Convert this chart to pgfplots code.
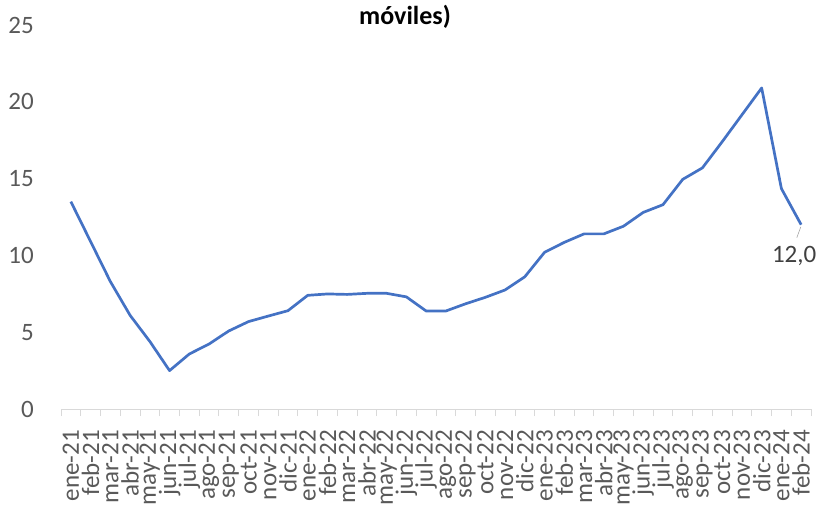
\documentclass[border=0pt]{standalone}
\usepackage{fontspec}
\setmainfont{Carlito}
\usepackage{pgfplots}
\pgfplotsset{compat=1.18}
\definecolor{lineblue}{HTML}{4472C4}
\definecolor{txtgray}{HTML}{595959}
\definecolor{axgray}{HTML}{D9D9D9}
\definecolor{lblgray}{HTML}{404040}
\begin{document}
\begin{tikzpicture}
\useasboundingbox (0,0) rectangle (819bp,506bp);
\clip (0,0) rectangle (819bp,506bp);
\node[font=\fontsize{26bp}{30bp}\selectfont\bfseries, text=black] at (405bp,489bp) {móviles)};
\begin{axis}[
  at={(61bp,97bp)}, anchor=south west,
  scale only axis, width=750bp, height=384bp,
  xmin=-0.5, xmax=37.5, ymin=0, ymax=25,
  axis x line*=bottom, axis y line*=left,
  x axis line style={draw=axgray, line width=0.8bp, -},
  y axis line style={draw=none},
  xtick={0,...,37},
  xticklabels={ene-21,feb-21,mar-21,abr-21,may-21,jun-21,jul-21,ago-21,sep-21,oct-21,nov-21,dic-21,ene-22,feb-22,mar-22,abr-22,may-22,jun-22,jul-22,ago-22,sep-22,oct-22,nov-22,dic-22,ene-23,feb-23,mar-23,abr-23,may-23,jun-23,jul-23,ago-23,sep-23,oct-23,nov-23,dic-23,ene-24,feb-24},
  minor xtick={-0.5,0.5,...,37.5},
  ytick={0,5,10,15,20,25},
  tick align=outside,
  major tick length=0pt,
  minor tick length=7bp,
  minor x tick style={draw=axgray, line width=0.8bp},
  major tick style={draw=none},
  /pgf/number format/assume math mode=true,
  ticklabel style={font=\fontsize{25bp}{30bp}\selectfont, text=txtgray},
  xticklabel style={yshift=-21bp, rotate=90, anchor=east, inner sep=0pt},
  yticklabel style={anchor=east, inner sep=0pt, xshift=-27bp},
  clip=false,
]
\addplot[lineblue, line width=2.7bp, line join=round] coordinates {
(0,13.5)(1,10.9)(2,8.3)(3,6.1)(4,4.4)(5,2.5)(6,3.58)(7,4.23)(8,5.08)(9,5.69)
(10,6.05)(11,6.4)(12,7.4)(13,7.49)(14,7.46)(15,7.53)(16,7.53)(17,7.3)(18,6.38)(19,6.38)
(20,6.85)(21,7.27)(22,7.75)(23,8.61)(24,10.2)(25,10.85)(26,11.4)(27,11.4)(28,11.9)(29,12.8)
(30,13.3)(31,14.95)(32,15.7)(33,17.4)(34,19.15)(35,20.9)(36,14.35)(37,12.0)
};
\addplot[draw=gray!70, line width=0.6bp] coordinates {(36.98,11.85)(36.78,11.15)};
\addplot[draw=none, mark=none, nodes near coords={12,0},
  every node near coord/.append style={anchor=center, xshift=-7bp, yshift=-31bp,
  font=\fontsize{25bp}{30bp}\selectfont, text=lblgray}] coordinates {(37,12.0)};
\end{axis}
\end{tikzpicture}
\end{document}
